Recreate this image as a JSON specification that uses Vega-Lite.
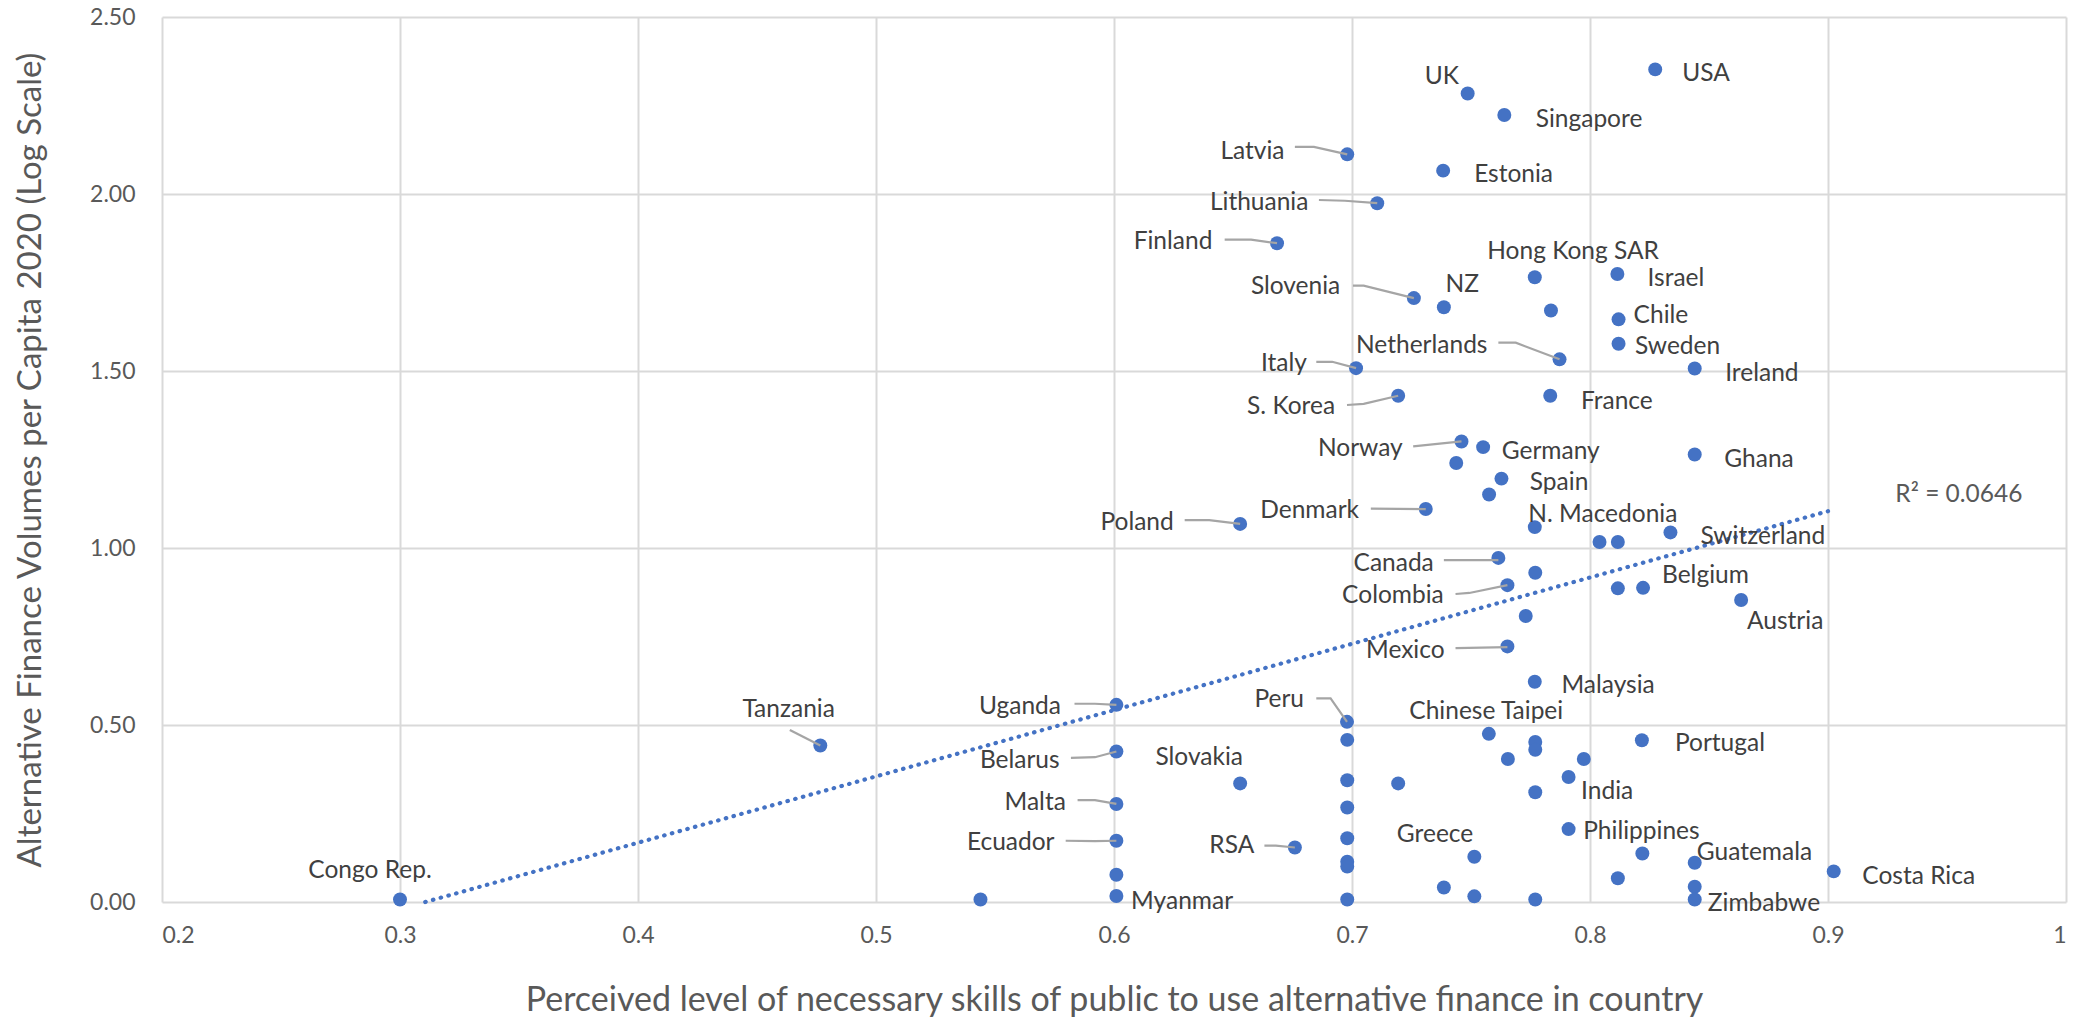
{
  "$schema": "https://vega.github.io/schema/vega-lite/v6.json",
  "width": 1904,
  "height": 885,
  "autosize": {"type": "none"},
  "padding": {"left": 162, "top": 17, "right": 9, "bottom": 128},
  "background": "white",
  "config": {"font": "Lato", "view": {"stroke": null}},
  "datasets": {
    "pts": [
      {"c": "USA", "x": 0.8274, "y": 2.352},
      {"c": "UK", "x": 0.7486, "y": 2.284},
      {"c": "Singapore", "x": 0.764, "y": 2.223},
      {"c": "Latvia", "x": 0.698, "y": 2.112},
      {"c": "Estonia", "x": 0.7383, "y": 2.066},
      {"c": "Lithuania", "x": 0.7106, "y": 1.974},
      {"c": "Finland", "x": 0.6685, "y": 1.861},
      {"c": "Hong Kong SAR", "x": 0.7768, "y": 1.765},
      {"c": "Israel", "x": 0.8115, "y": 1.774},
      {"c": "Slovenia", "x": 0.726, "y": 1.706},
      {"c": "NZ", "x": 0.7386, "y": 1.68},
      {"c": "", "x": 0.7836, "y": 1.671},
      {"c": "Chile", "x": 0.812, "y": 1.646},
      {"c": "Sweden", "x": 0.812, "y": 1.577},
      {"c": "Netherlands", "x": 0.7872, "y": 1.533},
      {"c": "Italy", "x": 0.7017, "y": 1.508},
      {"c": "Ireland", "x": 0.844, "y": 1.507},
      {"c": "S. Korea", "x": 0.7194, "y": 1.43},
      {"c": "France", "x": 0.7833, "y": 1.43},
      {"c": "Norway", "x": 0.746, "y": 1.301},
      {"c": "Germany", "x": 0.7551, "y": 1.285},
      {"c": "Ghana", "x": 0.844, "y": 1.264},
      {"c": "", "x": 0.7438, "y": 1.24},
      {"c": "Spain", "x": 0.7628, "y": 1.196},
      {"c": "", "x": 0.7576, "y": 1.151},
      {"c": "Denmark", "x": 0.731, "y": 1.11},
      {"c": "Poland", "x": 0.653, "y": 1.068},
      {"c": "N. Macedonia", "x": 0.7768, "y": 1.059},
      {"c": "Switzerland", "x": 0.8338, "y": 1.044},
      {"c": "", "x": 0.804, "y": 1.017},
      {"c": "", "x": 0.8117, "y": 1.017},
      {"c": "Canada", "x": 0.7615, "y": 0.972},
      {"c": "", "x": 0.777, "y": 0.93},
      {"c": "Colombia", "x": 0.7653, "y": 0.895},
      {"c": "", "x": 0.8117, "y": 0.886},
      {"c": "Belgium", "x": 0.8223, "y": 0.8875},
      {"c": "Austria", "x": 0.8635, "y": 0.853},
      {"c": "", "x": 0.773, "y": 0.808},
      {"c": "Mexico", "x": 0.7653, "y": 0.722},
      {"c": "Malaysia", "x": 0.7768, "y": 0.622},
      {"c": "Uganda", "x": 0.601, "y": 0.557},
      {"c": "Peru", "x": 0.6979, "y": 0.509},
      {"c": "Chinese Taipei", "x": 0.7575, "y": 0.475},
      {"c": "", "x": 0.698, "y": 0.458},
      {"c": "", "x": 0.777, "y": 0.452},
      {"c": "", "x": 0.777, "y": 0.43},
      {"c": "Portugal", "x": 0.8218, "y": 0.457},
      {"c": "Tanzania", "x": 0.4766, "y": 0.442},
      {"c": "Belarus", "x": 0.601, "y": 0.425},
      {"c": "", "x": 0.7655, "y": 0.404},
      {"c": "", "x": 0.7974, "y": 0.404},
      {"c": "India", "x": 0.791, "y": 0.353},
      {"c": "", "x": 0.698, "y": 0.344},
      {"c": "Slovakia", "x": 0.653, "y": 0.335},
      {"c": "", "x": 0.7194, "y": 0.335},
      {"c": "", "x": 0.777, "y": 0.31},
      {"c": "Malta", "x": 0.601, "y": 0.277},
      {"c": "", "x": 0.698, "y": 0.267},
      {"c": "Philippines", "x": 0.791, "y": 0.206},
      {"c": "", "x": 0.698, "y": 0.18},
      {"c": "Ecuador", "x": 0.601, "y": 0.173},
      {"c": "RSA", "x": 0.676, "y": 0.154},
      {"c": "", "x": 0.822, "y": 0.137},
      {"c": "Greece", "x": 0.7514, "y": 0.128},
      {"c": "", "x": 0.698, "y": 0.114},
      {"c": "Guatemala", "x": 0.844, "y": 0.111},
      {"c": "", "x": 0.698, "y": 0.1},
      {"c": "Costa Rica", "x": 0.9024, "y": 0.0865},
      {"c": "", "x": 0.601, "y": 0.077},
      {"c": "", "x": 0.8117, "y": 0.067},
      {"c": "", "x": 0.844, "y": 0.043},
      {"c": "", "x": 0.7386, "y": 0.041},
      {"c": "Myanmar", "x": 0.601, "y": 0.017},
      {"c": "", "x": 0.7514, "y": 0.016},
      {"c": "", "x": 0.777, "y": 0.007},
      {"c": "", "x": 0.698, "y": 0.007},
      {"c": "", "x": 0.5439, "y": 0.007},
      {"c": "Zimbabwe", "x": 0.844, "y": 0.007},
      {"c": "Congo Rep.", "x": 0.3, "y": 0.007}
    ],
    "lbl": [
      {"t": "USA", "lx": 0.8488, "ly": 2.34},
      {"t": "UK", "lx": 0.7378, "ly": 2.331},
      {"t": "Singapore", "lx": 0.7996, "ly": 2.209},
      {"t": "Latvia", "lx": 0.6582, "ly": 2.119},
      {"t": "Estonia", "lx": 0.7679, "ly": 2.054},
      {"t": "Lithuania", "lx": 0.661, "ly": 1.974},
      {"t": "Finland", "lx": 0.6248, "ly": 1.863},
      {"t": "Hong Kong SAR", "lx": 0.7929, "ly": 1.835},
      {"t": "Israel", "lx": 0.8361, "ly": 1.759},
      {"t": "Slovenia", "lx": 0.6763, "ly": 1.737},
      {"t": "NZ", "lx": 0.7463, "ly": 1.744},
      {"t": "Chile", "lx": 0.8298, "ly": 1.656},
      {"t": "Netherlands", "lx": 0.7293, "ly": 1.57},
      {"t": "Sweden", "lx": 0.8368, "ly": 1.567},
      {"t": "Italy", "lx": 0.6714, "ly": 1.519},
      {"t": "Ireland", "lx": 0.8722, "ly": 1.492},
      {"t": "France", "lx": 0.8113, "ly": 1.413},
      {"t": "S. Korea", "lx": 0.6744, "ly": 1.399},
      {"t": "Norway", "lx": 0.7035, "ly": 1.279},
      {"t": "Germany", "lx": 0.7835, "ly": 1.27},
      {"t": "Ghana", "lx": 0.871, "ly": 1.25},
      {"t": "Spain", "lx": 0.787, "ly": 1.183},
      {"t": "Denmark", "lx": 0.6822, "ly": 1.105},
      {"t": "N. Macedonia", "lx": 0.8054, "ly": 1.094},
      {"t": "Poland", "lx": 0.6097, "ly": 1.072},
      {"t": "Switzerland", "lx": 0.8726, "ly": 1.031},
      {"t": "Canada", "lx": 0.7175, "ly": 0.956},
      {"t": "Belgium", "lx": 0.8485, "ly": 0.921},
      {"t": "Colombia", "lx": 0.7172, "ly": 0.864},
      {"t": "Austria", "lx": 0.882, "ly": 0.791},
      {"t": "Mexico", "lx": 0.7224, "ly": 0.709},
      {"t": "Malaysia", "lx": 0.8076, "ly": 0.611},
      {"t": "Peru", "lx": 0.6694, "ly": 0.572},
      {"t": "Uganda", "lx": 0.5605, "ly": 0.55},
      {"t": "Tanzania", "lx": 0.4633, "ly": 0.541},
      {"t": "Chinese Taipei", "lx": 0.7564, "ly": 0.537},
      {"t": "Portugal", "lx": 0.8546, "ly": 0.447},
      {"t": "Belarus", "lx": 0.5604, "ly": 0.399},
      {"t": "Slovakia", "lx": 0.6358, "ly": 0.407},
      {"t": "India", "lx": 0.8072, "ly": 0.312},
      {"t": "Malta", "lx": 0.5669, "ly": 0.279},
      {"t": "Philippines", "lx": 0.8216, "ly": 0.199},
      {"t": "Greece", "lx": 0.7349, "ly": 0.188},
      {"t": "Ecuador", "lx": 0.5566, "ly": 0.166},
      {"t": "RSA", "lx": 0.6495, "ly": 0.157},
      {"t": "Guatemala", "lx": 0.8691, "ly": 0.139},
      {"t": "Congo Rep.", "lx": 0.2874, "ly": 0.087},
      {"t": "Costa Rica", "lx": 0.9381, "ly": 0.07},
      {"t": "Myanmar", "lx": 0.6286, "ly": 0.0},
      {"t": "Zimbabwe", "lx": 0.8731, "ly": -0.007}
    ],
    "ldr": [
      {"c": "Latvia", "s": 1, "x": 0.676, "y": 2.133},
      {"c": "Latvia", "s": 2, "x": 0.684, "y": 2.133},
      {"c": "Latvia", "s": 3, "x": 0.698, "y": 2.112},
      {"c": "Lithuania", "s": 1, "x": 0.6861, "y": 1.983},
      {"c": "Lithuania", "s": 2, "x": 0.697, "y": 1.981},
      {"c": "Lithuania", "s": 3, "x": 0.7106, "y": 1.974},
      {"c": "Finland", "s": 1, "x": 0.6465, "y": 1.871},
      {"c": "Finland", "s": 2, "x": 0.6576, "y": 1.871},
      {"c": "Finland", "s": 3, "x": 0.6685, "y": 1.861},
      {"c": "Slovenia", "s": 1, "x": 0.7004, "y": 1.741},
      {"c": "Slovenia", "s": 2, "x": 0.7049, "y": 1.741},
      {"c": "Slovenia", "s": 3, "x": 0.726, "y": 1.706},
      {"c": "Netherlands", "s": 1, "x": 0.7615, "y": 1.58},
      {"c": "Netherlands", "s": 2, "x": 0.7688, "y": 1.58},
      {"c": "Netherlands", "s": 3, "x": 0.7872, "y": 1.533},
      {"c": "Italy", "s": 1, "x": 0.685, "y": 1.526},
      {"c": "Italy", "s": 2, "x": 0.6917, "y": 1.526},
      {"c": "Italy", "s": 3, "x": 0.7017, "y": 1.508},
      {"c": "S. Korea", "s": 1, "x": 0.6979, "y": 1.404},
      {"c": "S. Korea", "s": 2, "x": 0.7049, "y": 1.407},
      {"c": "S. Korea", "s": 3, "x": 0.7194, "y": 1.43},
      {"c": "Norway", "s": 1, "x": 0.7257, "y": 1.287},
      {"c": "Norway", "s": 3, "x": 0.746, "y": 1.301},
      {"c": "Denmark", "s": 1, "x": 0.7079, "y": 1.111},
      {"c": "Denmark", "s": 3, "x": 0.731, "y": 1.11},
      {"c": "Poland", "s": 1, "x": 0.6297, "y": 1.079},
      {"c": "Poland", "s": 2, "x": 0.64, "y": 1.079},
      {"c": "Poland", "s": 3, "x": 0.653, "y": 1.068},
      {"c": "Canada", "s": 1, "x": 0.7386, "y": 0.966},
      {"c": "Canada", "s": 3, "x": 0.7615, "y": 0.966},
      {"c": "Colombia", "s": 1, "x": 0.7435, "y": 0.87},
      {"c": "Colombia", "s": 2, "x": 0.7493, "y": 0.873},
      {"c": "Colombia", "s": 3, "x": 0.7653, "y": 0.895},
      {"c": "Mexico", "s": 1, "x": 0.7435, "y": 0.717},
      {"c": "Mexico", "s": 3, "x": 0.7653, "y": 0.72},
      {"c": "Peru", "s": 1, "x": 0.685, "y": 0.575},
      {"c": "Peru", "s": 2, "x": 0.691, "y": 0.575},
      {"c": "Peru", "s": 3, "x": 0.6979, "y": 0.509},
      {"c": "Tanzania", "s": 1, "x": 0.4638, "y": 0.486},
      {"c": "Tanzania", "s": 3, "x": 0.4766, "y": 0.442},
      {"c": "Uganda", "s": 1, "x": 0.5834, "y": 0.56},
      {"c": "Uganda", "s": 2, "x": 0.592, "y": 0.56},
      {"c": "Uganda", "s": 3, "x": 0.601, "y": 0.557},
      {"c": "Belarus", "s": 1, "x": 0.5819, "y": 0.407},
      {"c": "Belarus", "s": 2, "x": 0.592, "y": 0.409},
      {"c": "Belarus", "s": 3, "x": 0.601, "y": 0.425},
      {"c": "Malta", "s": 1, "x": 0.5847, "y": 0.288},
      {"c": "Malta", "s": 2, "x": 0.592, "y": 0.288},
      {"c": "Malta", "s": 3, "x": 0.601, "y": 0.277},
      {"c": "Ecuador", "s": 1, "x": 0.5797, "y": 0.173},
      {"c": "Ecuador", "s": 2, "x": 0.592, "y": 0.172},
      {"c": "Ecuador", "s": 3, "x": 0.601, "y": 0.173},
      {"c": "RSA", "s": 1, "x": 0.6632, "y": 0.159},
      {"c": "RSA", "s": 2, "x": 0.668, "y": 0.159},
      {"c": "RSA", "s": 3, "x": 0.676, "y": 0.154}
    ],
    "trend": [
      {"x": 0.3106, "y": 0.0},
      {"x": 0.9, "y": 1.104}
    ],
    "r2": [
      {"t": "R² = 0.0646", "lx": 0.955, "ly": 1.151}
    ]
  },
  "layer": [
    {
      "data": {"name": "trend"},
      "mark": {"type": "line", "color": "#4472C4", "strokeWidth": 4.2, "strokeDash": [0.5, 7.5], "strokeCap": "round"},
      "encoding": {
        "x": {
          "field": "x", "type": "quantitative",
          "scale": {"domain": [0.2, 1], "nice": false, "zero": false},
          "axis": {
            "values": [0.2, 0.3, 0.4, 0.5, 0.6, 0.7, 0.8, 0.9, 1],
            "format": "~g",
            "title": "Perceived level of necessary skills of public to use alternative finance in country",
            "titleFont": "Lato", "titleFontSize": 34, "titleFontWeight": "normal", "titleColor": "#595959",
            "titlePadding": 36,
            "labelFont": "Lato", "labelFontSize": 23, "labelColor": "#595959", "labelPadding": 22,
            "ticks": false, "domain": false,
            "grid": true, "gridColor": "#D9D9D9", "gridWidth": 2
          }
        },
        "y": {
          "field": "y", "type": "quantitative",
          "scale": {"domain": [0, 2.5], "nice": false},
          "axis": {
            "values": [0, 0.5, 1, 1.5, 2, 2.5],
            "format": ".2f",
            "title": "Alternative Finance Volumes per Capita 2020 (Log Scale)",
            "titleFont": "Lato", "titleFontSize": 33, "titleFontWeight": "normal", "titleColor": "#595959",
            "titlePadding": 42,
            "labelFont": "Lato", "labelFontSize": 23, "labelColor": "#595959", "labelPadding": 27,
            "ticks": false, "domain": false,
            "grid": true, "gridColor": "#D9D9D9", "gridWidth": 2
          }
        }
      }
    },
    {
      "data": {"name": "pts"},
      "mark": {"type": "circle", "color": "#4472C4", "opacity": 1, "size": 195},
      "encoding": {
        "x": {"field": "x", "type": "quantitative"},
        "y": {"field": "y", "type": "quantitative"}
      }
    },
    {
      "data": {"name": "ldr"},
      "mark": {"type": "line", "color": "#A5A5A5", "strokeWidth": 2.2},
      "encoding": {
        "x": {"field": "x", "type": "quantitative"},
        "y": {"field": "y", "type": "quantitative"},
        "detail": {"field": "c"},
        "order": {"field": "s"}
      }
    },
    {
      "data": {"name": "lbl"},
      "mark": {"type": "text", "font": "Lato", "fontSize": 24.5, "color": "#404040", "align": "center", "baseline": "middle"},
      "encoding": {
        "x": {"field": "lx", "type": "quantitative"},
        "y": {"field": "ly", "type": "quantitative"},
        "text": {"field": "t"}
      }
    },
    {
      "data": {"name": "r2"},
      "mark": {"type": "text", "font": "Lato", "fontSize": 24.5, "color": "#595959", "align": "center", "baseline": "middle"},
      "encoding": {
        "x": {"field": "lx", "type": "quantitative"},
        "y": {"field": "ly", "type": "quantitative"},
        "text": {"field": "t"}
      }
    }
  ]
}
